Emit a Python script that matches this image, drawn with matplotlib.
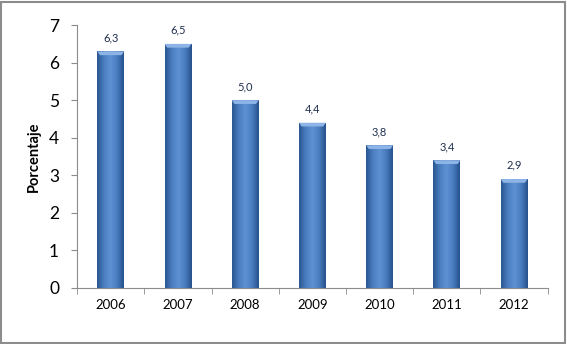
import matplotlib.pyplot as plt
import numpy as np
from matplotlib.colors import LinearSegmentedColormap
from matplotlib.patches import Polygon, Rectangle

years = ['2006', '2007', '2008', '2009', '2010', '2011', '2012']
porcentaje = [6.3, 6.5, 5.0, 4.4, 3.8, 3.4, 2.9]
yticks = [0, 1, 2, 3, 4, 5, 6, 7]

plt.rcParams['font.family'] = ['Lato', 'DejaVu Sans']

fig = plt.figure(figsize=(5.67, 3.44), dpi=100)
ax = fig.add_axes([0.136, 0.163, 0.830, 0.764])

# outer frame of the chart area
fig.add_artist(Rectangle((0.002, 0.003), 0.994, 0.992, transform=fig.transFigure,
                         fill=False, edgecolor='#8c8c8c', linewidth=1.5))

x = np.arange(len(years))
width = 0.4
bars = ax.bar(x, porcentaje, width=width, color='none', edgecolor='none')

# horizontal shading so each bar looks rounded
shade = LinearSegmentedColormap.from_list(
    'shade', ['#2b5791', '#4a7dc0', '#5f92d3', '#4a7dc0', '#26518c'])
grad = np.linspace(0, 1, 64).reshape(1, -1)
for b in bars:
    x0, w, h = b.get_x(), b.get_width(), b.get_height()
    im = ax.imshow(grad, cmap=shade, aspect='auto', extent=(x0, x0 + w, 0, h),
                   zorder=2, interpolation='bicubic')
    im.set_clip_path(b)
    # bevelled top edge
    bev = 0.1
    ax.add_patch(Polygon([(x0, h), (x0 + w, h), (x0 + w * 0.9, h - bev),
                          (x0 + w * 0.1, h - bev)],
                         facecolor='#8db4e6', edgecolor='none', zorder=3))
    ax.text(b.get_x() + w / 2, h + 0.22, f'{h:.1f}'.replace('.', ','),
            ha='center', va='bottom', fontsize=8, color='#1f2f4f')

ax.set_xlim(-0.5, len(years) - 0.5)
ax.set_ylim(0, 7)
ax.set_yticks(yticks)
ax.set_yticklabels([str(t) for t in yticks], fontsize=12.5)
ax.set_xticks(x)
ax.set_xticklabels(years, fontsize=9.5)
ax.set_xticks(np.arange(-0.5, len(years)), minor=True)
ax.tick_params(axis='x', which='major', length=0, pad=8)
ax.tick_params(axis='x', which='minor', length=4, color='#8c8c8c')
ax.tick_params(axis='y', length=4, color='#8c8c8c', pad=9)
ax.set_ylabel('Porcentaje', fontsize=10.5, fontweight='bold', labelpad=6)

for side in ['top', 'right']:
    ax.spines[side].set_visible(False)
for side in ['left', 'bottom']:
    ax.spines[side].set_color('#8c8c8c')

fig.savefig('out.png', dpi=100)
